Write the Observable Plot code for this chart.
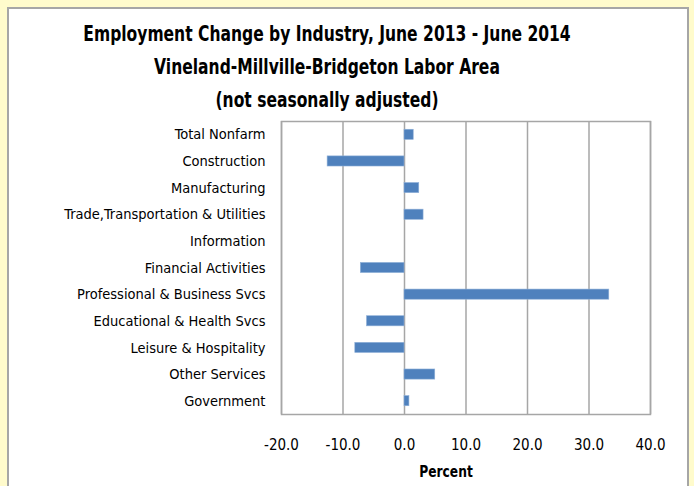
<!DOCTYPE html>
<html>
<head>
<meta charset="utf-8">
<script src="https://cdn.jsdelivr.net/npm/d3@7"></script>
<script src="https://cdn.jsdelivr.net/npm/@observablehq/plot@0.6"></script>
<style>
  html, body { margin: 0; padding: 0; }
  body { width: 694px; height: 486px; background: #FFFBCC; position: relative; overflow: hidden;
         font-family: "DejaVu Sans Condensed", sans-serif; font-stretch: condensed; }
  #panel { position: absolute; left: 7px; top: 7px; width: 678px; height: 500px; background: #fff;
           border: 2px solid #A6A6A6; }
  .title { position: absolute; left: 0; width: 654px; text-align: center; font-weight: bold;
           font-size: 22px; line-height: 26px; color: #000; transform: scaleX(0.785); transform-origin: 327px 0; }
  #chart { position: absolute; left: 0; top: 110px; }
  #xlabel { position: absolute; left: 396px; width: 100px; top: 463px; text-align: center;
            font-weight: bold; font-size: 15.5px; transform: scaleX(0.88); }
</style>
</head>
<body>
<div id="panel"></div>
<div class="title" style="top:21px">Employment Change by Industry, June 2013 - June 2014</div>
<div class="title" style="top:54px">Vineland-Millville-Bridgeton Labor Area</div>
<div class="title" style="top:87px">(not seasonally adjusted)</div>
<div id="chart"></div>
<div id="xlabel">Percent</div>
<script>
const industries = [
  "Total Nonfarm",
  "Construction",
  "Manufacturing",
  "Trade,Transportation & Utilities",
  "Information",
  "Financial Activities",
  "Professional & Business Svcs",
  "Educational & Health Svcs",
  "Leisure & Hospitality",
  "Other Services",
  "Government"
];
const changes = [1.5, -12.5, 2.4, 3.1, 0.0, -7.1, 33.3, -6.1, -8.0, 5.0, 0.8];
const xTicks = [-20, -10, 0, 10, 20, 30, 40];

const data = industries.map((name, i) => ({name, value: changes[i]}));

const chart = Plot.plot({
  width: 694,
  height: 376,
  marginLeft: 281,
  marginRight: 44,
  marginTop: 11,
  marginBottom: 72,
  style: {background: "transparent", fontFamily: "'DejaVu Sans Condensed', sans-serif", fontSize: "14px", color: "#000"},
  x: {domain: [-20, 40], label: null},
  y: {domain: industries, paddingInner: 0.62, paddingOuter: 0.31, round: false, label: null},
  marks: [
    Plot.ruleX(xTicks, {stroke: "#A6A6A6", strokeWidth: 1.5, strokeOpacity: 1}),
    Plot.barX(data, {x: "value", y: "name", fill: "#4F81BD", stroke: "#8FB0D8", strokeWidth: 0.6}),
    Plot.frame({stroke: "#A6A6A6", strokeWidth: 1.5}),
    Plot.axisX({ticks: xTicks, tickFormat: d => d.toFixed(1), tickSize: 0, tickPadding: 25, fontSize: 15, label: null}),
    Plot.axisY({tickSize: 0, tickPadding: 16, fontSize: 14.5, label: null})
  ]
});
chart.style.fontStretch = "condensed";
document.getElementById("chart").appendChild(chart);
</script>
</body>
</html>
